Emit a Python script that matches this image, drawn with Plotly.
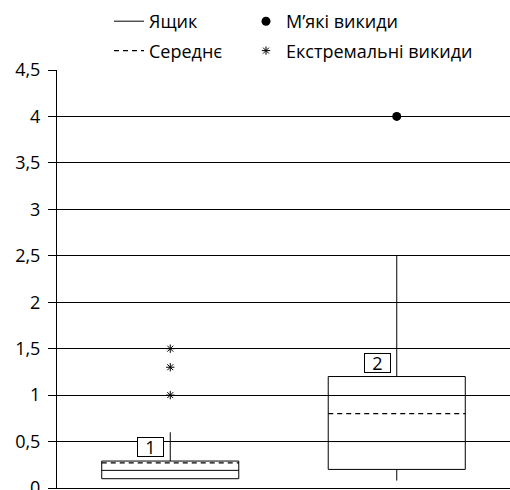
import plotly.graph_objects as go

# ---- data ----
categories = ["1", "2"]
positions = [0, 1]
q1 = [0.10, 0.20]
median = [0.19, 0.50]
q3 = [0.29, 1.20]
mean = [0.27, 0.80]
lower_fence = [0.10, 0.08]
upper_fence = [0.60, 2.50]
mild_x = [1]
mild_y = [4.0]
extreme_x = [0, 0, 0]
extreme_y = [1.0, 1.3, 1.5]
y_ticks = [0, 0.5, 1, 1.5, 2, 2.5, 3, 3.5, 4, 4.5]

BOX_W = 0.605
FONT = "Open Sans"

fig = go.Figure()

fig.add_trace(go.Box(
    x=positions, q1=q1, median=median, q3=q3,
    lowerfence=lower_fence, upperfence=upper_fence,
    width=BOX_W, whiskerwidth=0, fillcolor="rgba(0,0,0,0)",
    line=dict(color="black", width=1),
    boxpoints=False, showlegend=False, hoverinfo="skip",
))

# mean lines across each box
mx, my = [], []
for p, m in zip(positions, mean):
    mx += [p - BOX_W / 2, p + BOX_W / 2, None]
    my += [m, m, None]

# legend-only entry for the box
fig.add_trace(go.Scatter(
    x=[None], y=[None], mode="lines", name="Ящик",
    line=dict(color="black", width=1),
    legend="legend", legendgroup="a",
))
fig.add_trace(go.Scatter(
    x=mx, y=my, mode="lines", name="Середнє",
    line=dict(color="black", width=1.2, dash="5px,4px"),
    legend="legend", legendgroup="b", hoverinfo="skip",
))
fig.add_trace(go.Scatter(
    x=mild_x, y=mild_y, mode="markers", name="М’які викиди",
    marker=dict(symbol="circle", size=9, color="black"),
    legend="legend2", legendgroup="c",
))
fig.add_trace(go.Scatter(
    x=extreme_x, y=extreme_y, mode="markers", name="Екстремальні викиди",
    marker=dict(symbol="asterisk-open", size=7, color="black",
                line=dict(color="black", width=1)),
    legend="legend2", legendgroup="d",
))

annotations = []
for p, lab, top in zip(positions, categories, q3):
    annotations.append(dict(
        x=p, y=top, xref="x", yref="y", text=lab, showarrow=False,
        xanchor="right", yanchor="bottom", xshift=-6, yshift=4,
        bordercolor="black", borderwidth=1, borderpad=1,
        width=23, height=16, bgcolor="white",
        font=dict(family=FONT, size=18, color="black"),
    ))

leg_common = dict(
    xref="container", yref="container", yanchor="top", xanchor="left",
    bgcolor="rgba(0,0,0,0)", borderwidth=0,
    font=dict(family=FONT, size=18, color="black"),
    traceorder="grouped", tracegroupgap=3, orientation="v",
)

fig.update_layout(
    width=510, height=490,
    margin=dict(l=57, r=0, t=70, b=2, autoexpand=False),
    paper_bgcolor="white", plot_bgcolor="white",
    separators=", ",
    font=dict(family=FONT, size=18, color="black"),
    legend=dict(x=109 / 510, y=1 - 3 / 490, **leg_common),
    legend2=dict(x=246 / 510, y=1 - 3 / 490, **leg_common),
    annotations=annotations,
    xaxis=dict(range=[-0.5, 1.5], showticklabels=False, showgrid=False,
               zeroline=False, showline=True, linecolor="black", linewidth=1,
               ticks=""),
    yaxis=dict(range=[0, 4.5], tickvals=y_ticks, showgrid=True,
               gridcolor="black", gridwidth=1, zeroline=False,
               showline=True, linecolor="black", linewidth=1,
               ticks="outside", ticklen=8, tickcolor="black",
               ticklabelstandoff=4, ticklabeloverflow="allow",
               tickfont=dict(family=FONT, size=18, color="black")),
)

fig.write_html("out.html",
               config={"displayModeBar": False},
               post_script="document.body.style.margin='0px';document.body.style.overflow='hidden';")
